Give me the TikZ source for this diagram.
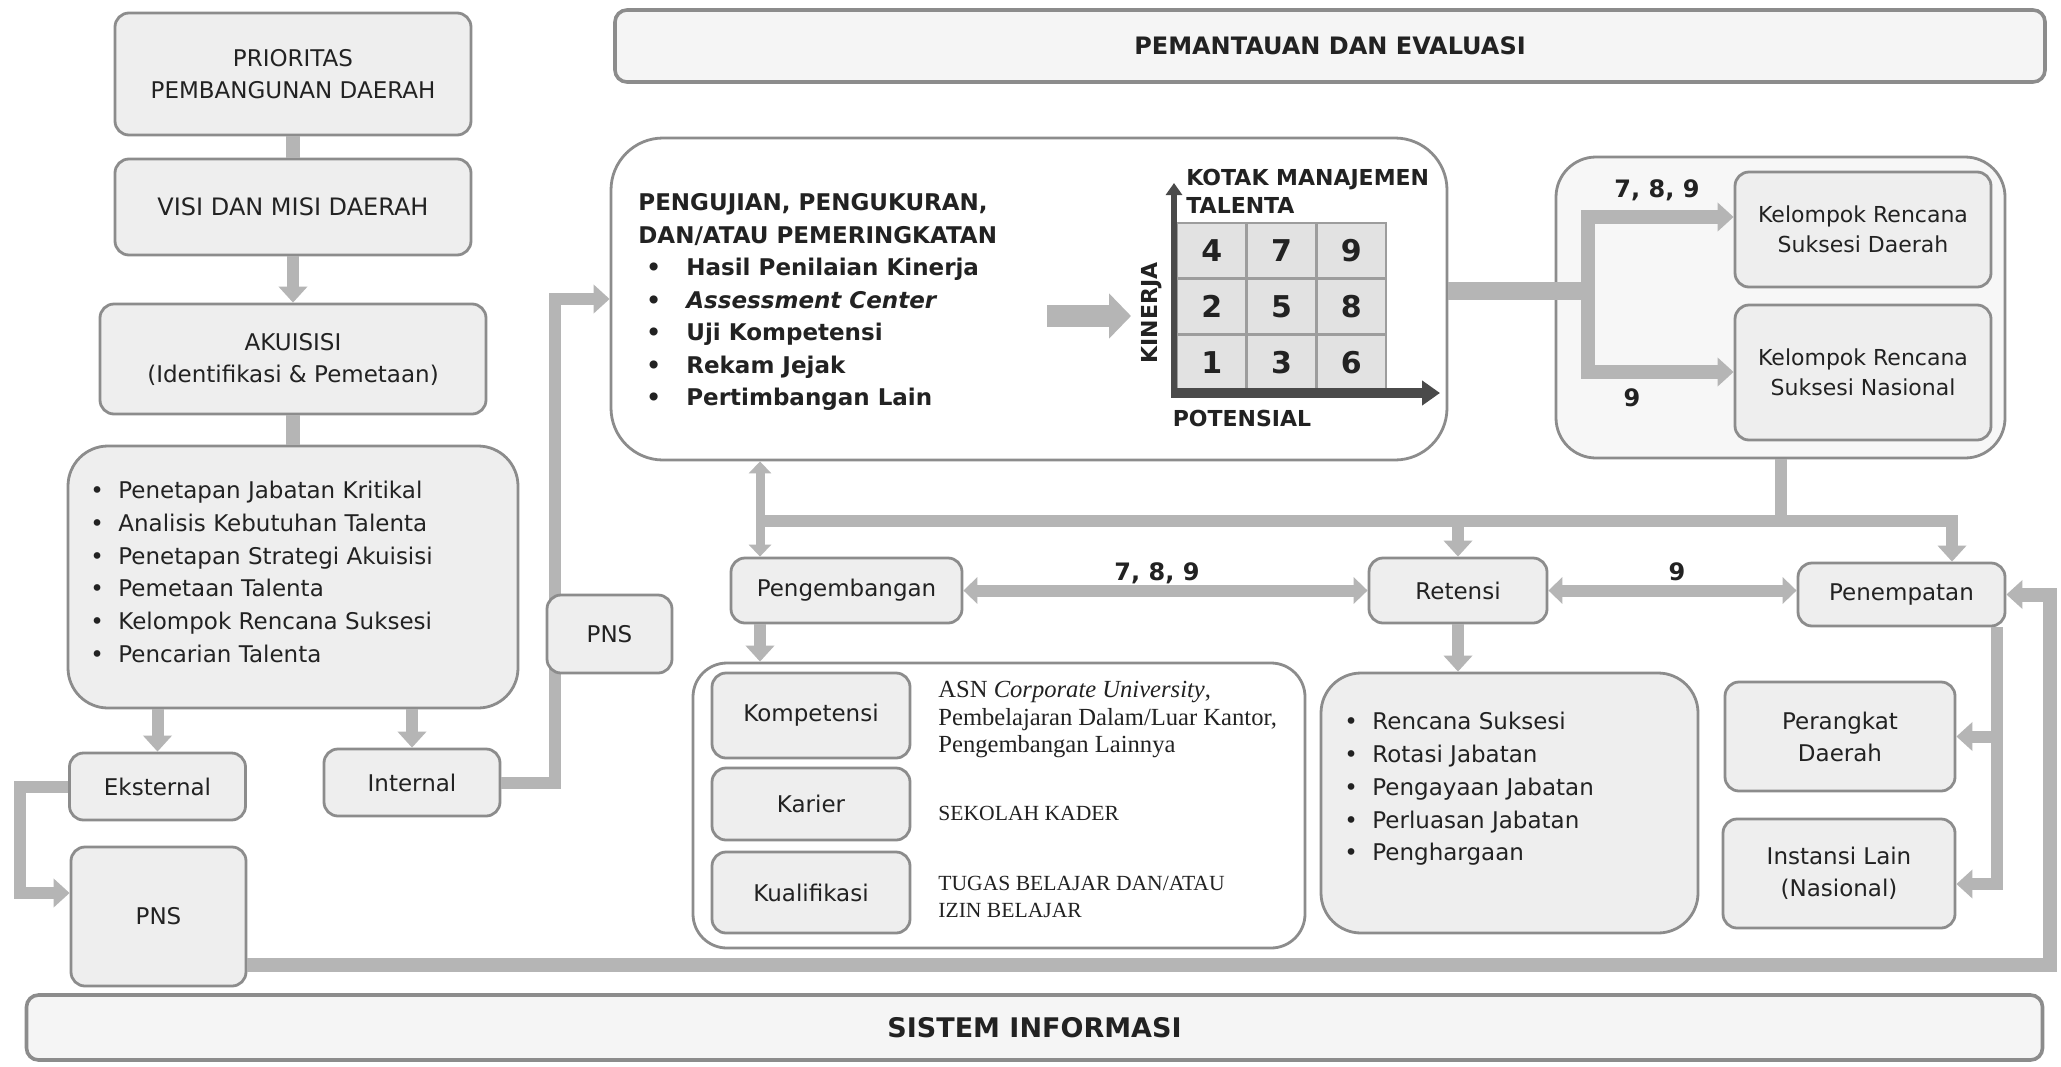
\documentclass[tikz,border=0pt]{standalone}
\usepackage{fontspec}
\setmainfont{DejaVu Sans}
\newfontfamily\serifx{Liberation Serif}
\usetikzlibrary{arrows.meta}

\definecolor{boxfill}{HTML}{EEEEEE}
\definecolor{boxline}{HTML}{8C8C8C}
\definecolor{linkgray}{HTML}{B5B5B5}
\definecolor{inkdark}{HTML}{222222}
\definecolor{cellfill}{HTML}{E2E2E2}
\definecolor{axisdark}{HTML}{4A4A4A}

\tikzset{
  tbox/.style={draw=boxline, line width=1.4pt, fill=boxfill, rounded corners=7pt,
    align=center, text=inkdark, inner sep=2pt, font=\fontsize{11.5}{16}\selectfont},
  panel/.style={tbox, rounded corners=20pt},
  banner/.style={tbox, line width=1.8pt, rounded corners=6pt, fill=boxfill!60!white,
    font=\bfseries\fontsize{12}{14}\selectfont},
  itemlist/.style={anchor=west, align=left, inner sep=0pt, text=inkdark,
    font=\fontsize{11.5}{16.4}\selectfont},
  desc/.style={anchor=west, align=left, inner sep=0pt, text=inkdark,
    font=\serifx\fontsize{12.3}{13.75}\selectfont},
  lbl/.style={text=inkdark, font=\bfseries\fontsize{12}{14}\selectfont},
  cell/.style={draw=boxline!85, line width=1.4pt, fill=cellfill, minimum width=34.8pt,
    minimum height=27.8pt, inner sep=0pt, text=inkdark, font=\bfseries\fontsize{15}{15}\selectfont},
  link/.style={draw=linkgray, line width=6pt},
  linkarr/.style={link, -{Triangle[width=14pt,length=8pt]}},
  linkboth/.style={link, {Triangle[width=13pt,length=7pt]}-{Triangle[width=13pt,length=7pt]}},
}
\newcommand{\bul}[1][14pt]{\makebox[#1][l]{\textbullet}}

\begin{document}
\begin{tikzpicture}[x=0.5pt, y=-0.5pt]
  \useasboundingbox (0,0) rectangle (2061,1066);
  \fill[white] (0,0) rectangle (2061,1066);

  % left column
  \node[tbox, minimum width=178pt, minimum height=61pt] (prio) at (293,74) {PRIORITAS\\PEMBANGUNAN DAERAH};
  \node[tbox, font=\fontsize{12}{16}\selectfont, minimum width=178pt, minimum height=48pt] (visi) at (293,207) {VISI DAN MISI DAERAH};
  \node[tbox, minimum width=193pt, minimum height=55pt] (akuisisi) at (293,359) {AKUISISI\\(Identifikasi \& Pemetaan)};
  \node[panel, minimum width=225pt, minimum height=131pt] (tahap) at (293,577) {};
  \node[itemlist] (tahaplist) at (90,572) {\bul Penetapan Jabatan Kritikal\\\bul Analisis Kebutuhan Talenta\\
    \bul Penetapan Strategi Akuisisi\\\bul Pemetaan Talenta\\\bul Kelompok Rencana Suksesi\\\bul Pencarian Talenta};
  \node[tbox, minimum width=88pt, minimum height=33.5pt] (eksternal) at (157.5,786.5) {Eksternal};
  \node[tbox, minimum width=88pt, minimum height=33.5pt] (internal) at (412,782.5) {Internal};
  \node[tbox, minimum width=87.5pt, minimum height=69.5pt] (pnsbig) at (158.5,916.5) {PNS};

  % banners
  \node[banner, minimum width=715pt, minimum height=36pt] (monev) at (1330,46) {PEMANTAUAN DAN EVALUASI};
  \node[banner, font=\bfseries\fontsize{13.5}{15}\selectfont, minimum width=1008pt, minimum height=32.5pt] (sisinfo) at (1034.5,1027.5) {SISTEM INFORMASI};

  % pengujian and talent box
  \node[panel, fill=white, rounded corners=26pt, minimum width=418pt, minimum height=161pt] (uji) at (1029,299) {};
  \node[itemlist, font=\bfseries\fontsize{11.5}{16.25}\selectfont] (ujilist) at (638,302) {PENGUJIAN, PENGUKURAN,\\DAN/ATAU PEMERINGKATAN\\
    \hspace{4pt}\bul[20pt]Hasil Penilaian Kinerja\\\hspace{4pt}\bul[20pt]\textit{Assessment Center}\\
    \hspace{4pt}\bul[20pt]Uji Kompetensi\\\hspace{4pt}\bul[20pt]Rekam Jejak\\\hspace{4pt}\bul[20pt]Pertimbangan Lain};
  \foreach \r/\a/\b/\c in {0/4/7/9, 1/2/5/8, 2/1/3/6} {
    \foreach \k/\v in {0/\a, 1/\b, 2/\c}
      \node[cell] (cell-\r-\k) at ({1211.8+69.7*\k},{250.8+55.7*\r}) {\v};
  }
  \coordinate (origin) at (1174,393);
  \coordinate (ytip) at (1174,183);
  \coordinate (xtip) at (1440,393);
  \draw[axisdark, line width=3pt, -{Triangle[width=8pt,length=6pt]}] (origin) -- (ytip);
  \draw[axisdark, line width=5pt, -{Triangle[width=12pt,length=9pt]}] ([xshift=-1.5pt]origin) -- (xtip);
  \node[anchor=west, align=left, inner sep=0pt, text=inkdark, font=\bfseries\fontsize{11}{14}\selectfont] (kotak) at (1186,191) {KOTAK MANAJEMEN\\TALENTA};
  \node[rotate=90, inner sep=0pt, text=inkdark, font=\bfseries\fontsize{11}{11}\selectfont] (kinerja) at (1152,313) {KINERJA};
  \node[inner sep=0pt, text=inkdark, font=\bfseries\fontsize{11}{11}\selectfont] (potensial) at (1242,418) {POTENSIAL};
  \coordinate (bigarrS) at (1047,316);
  \coordinate (bigarrE) at (1131,316);
  \draw[draw=linkgray, line width=11pt, -{Triangle[width=22pt,length=11pt]}] (bigarrS) -- (bigarrE);

  % suksesi box
  \node[panel, fill=boxfill!45!white, minimum width=224.5pt, minimum height=150.5pt] (suksesi) at (1780.5,307.5) {};
  \node[tbox, font=\fontsize{11}{15}\selectfont, minimum width=128pt, minimum height=57.5pt] (krsd) at (1863,229.5) {Kelompok Rencana\\Suksesi Daerah};
  \node[tbox, font=\fontsize{11}{15}\selectfont, minimum width=128pt, minimum height=67.5pt] (krsn) at (1863,372.5) {Kelompok Rencana\\Suksesi Nasional};

  % lower row
  \node[tbox, minimum width=115.5pt, minimum height=32.5pt] (pengembangan) at (846.5,590.5) {Pengembangan};
  \node[tbox, minimum width=89pt, minimum height=32.5pt] (retensi) at (1458,590.5) {Retensi};
  \node[tbox, minimum width=103.5pt, minimum height=31.5pt] (penempatan) at (1901.5,594.5) {Penempatan};
  \node[panel, fill=white, rounded corners=17pt, minimum width=306pt, minimum height=142.5pt] (kembang) at (999,805.5) {};
  \node[tbox, minimum width=99pt, minimum height=42.5pt] (kompetensi) at (811,715.5) {Kompetensi};
  \node[tbox, minimum width=99pt, minimum height=36pt] (karier) at (811,804) {Karier};
  \node[tbox, minimum width=99pt, minimum height=40.5pt] (kualifikasi) at (811,892.5) {Kualifikasi};
  \node[desc] (kompdesc) at (938,719.5) {ASN \textit{Corporate University},\\Pembelajaran Dalam/Luar Kantor,\\Pengembangan Lainnya};
  \node[desc, font=\serifx\fontsize{10.8}{13.5}\selectfont] (karierdesc) at (938,813) {SEKOLAH KADER};
  \node[desc, font=\serifx\fontsize{10.8}{13.5}\selectfont] (kualdesc) at (938,896.5) {TUGAS BELAJAR DAN/ATAU\\IZIN BELAJAR};
  \node[panel, minimum width=188.5pt, minimum height=130pt] (retensibox) at (1509.5,803) {};
  \node[itemlist] (retensilist) at (1344,789) {\bul Rencana Suksesi\\\bul Rotasi Jabatan\\\bul Pengayaan Jabatan\\
    \bul Perluasan Jabatan\\\bul Penghargaan};
  \node[tbox, minimum width=115pt, minimum height=54.5pt] (perangkat) at (1840,736.5) {Perangkat\\Daerah};
  \node[tbox, minimum width=116pt, minimum height=54.5pt] (instansi) at (1839,873.5) {Instansi Lain\\(Nasional)};

  % connectors
  \draw[link, line width=7pt] (prio) -- (visi);
  \draw[linkarr] (visi) -- (akuisisi);
  \draw[link, line width=7pt] (akuisisi) -- (tahap);
  \draw[linkarr] (tahap.south -| eksternal) -- (eksternal);
  \draw[linkarr] (tahap.south -| internal) -- (internal);
  \coordinate (eksbend) at (20,893);
  \draw[linkarr] (eksternal.west) -| (eksbend) -- (eksbend -| pnsbig.west);
  \coordinate (intbend) at (555,299);
  \draw[linkarr] (internal.east) -| (intbend) -- (uji.west);
  \coordinate (botright) at (2050,965);
  \draw[linkarr, line width=7pt] (pnsbig.east |- botright) -- (botright) |- (penempatan.east);

  \coordinate (forkmid) at (1588,291);
  \coordinate (forktop) at (1588,217);
  \coordinate (forkbot) at (1588,372);
  \draw[link, line width=9pt] (uji.east |- forkmid) -- (forkmid);
  \draw[linkarr, line width=7pt] (forkbot) -- (forktop) -- (forktop -| krsd.west);
  \draw[linkarr, line width=7pt] (forktop) -- (forkbot) -- (forkbot -| krsn.west);
  \node[lbl] at (1657,190) {7, 8, 9};
  \node[lbl] at (1632,398) {9};

  \coordinate (busleft) at (760,521);
  \coordinate (busright) at (1952,521);
  \draw[link] (suksesi.south) -- (suksesi.south |- busright);
  \draw[linkarr] (busleft) -- (busright) -- (busright |- penempatan.north);
  \draw[linkarr] (retensi.north |- busleft) -- (retensi.north);
  \draw[link, line width=4.5pt, {Triangle[width=11pt,length=6pt]}-{Triangle[width=11pt,length=6pt]}]
    (uji.south -| busleft) -- (busleft |- pengembangan.north);
  \draw[linkarr] (pengembangan.south -| busleft) -- (busleft |- kembang.north);
  \draw[linkboth] (pengembangan) -- (retensi);
  \node[lbl] at (1157,573) {7, 8, 9};
  \draw[linkboth] (retensi.east) -- (retensi.east -| penempatan.west);
  \node[lbl] at (1677,572) {9};
  \draw[linkarr] (retensi.south) -- (retensi.south |- retensibox.north);
  \coordinate (penbend) at (1997,884);
  \draw[linkarr] (penempatan.south -| penbend) -- (penbend) -- (penbend -| instansi.east);
  \draw[linkarr] (penbend |- perangkat.east) -- (perangkat.east);

  \node[tbox, minimum width=62.5pt, minimum height=39pt] (pnsmid) at (609.5,634) {PNS};
\end{tikzpicture}
\end{document}
